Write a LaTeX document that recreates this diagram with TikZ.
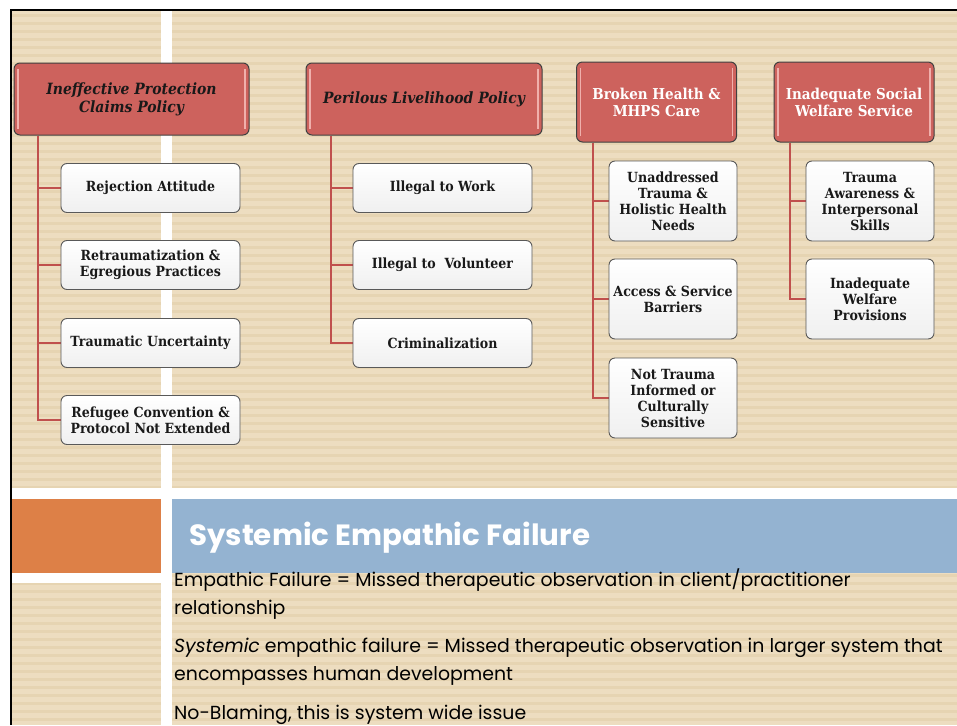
\documentclass[tikz,border=0pt]{standalone}
\usepackage{fontspec}
\newfontfamily\boxfont[FakeStretch=0.9]{DejaVu Serif}
\newfontfamily\slidefont{Poppins}
\pgfdeclarelayer{links}
\pgfsetlayers{links,main}
\definecolor{paper}{HTML}{EDDDC0}
\definecolor{paperline}{HTML}{E6D4B2}
\definecolor{headred}{HTML}{CD625D}
\definecolor{headgloss}{HTML}{F0B0AC}
\definecolor{linkred}{HTML}{C0504D}
\definecolor{accentorange}{HTML}{DD8047}
\definecolor{titleblue}{HTML}{94B3D1}
\tikzset{
  headbox/.style={draw=black!75, line width=1pt, rounded corners=6pt, fill=headred,
    align=center, inner sep=2pt,
    path picture={
      \draw[headgloss, line width=1.6pt]
        ([xshift=4pt,yshift=-6pt]path picture bounding box.north west) --
        ([xshift=4pt,yshift=6pt]path picture bounding box.south west);
      \draw[headgloss, line width=1.6pt]
        ([xshift=-4pt,yshift=-6pt]path picture bounding box.north east) --
        ([xshift=-4pt,yshift=6pt]path picture bounding box.south east);
    }},
  darkhead/.style={headbox, font=\boxfont\bfseries\itshape\fontsize{15.5}{18}\selectfont, text=black!90},
  lighthead/.style={headbox, font=\boxfont\bfseries\fontsize{15}{17}\selectfont, text=white},
  itembox/.style={draw=black!65, line width=0.9pt, rounded corners=6pt,
    top color=white, bottom color=black!6, align=center, inner sep=2pt,
    font=\boxfont\bfseries\fontsize{14}{16}\selectfont, text=black!90},
  widebox/.style={itembox, minimum width=179pt, minimum height=49pt},
  tallbox/.style={itembox, minimum width=128pt, minimum height=80pt},
  link/.style={draw=linkred, line width=2.2pt},
  bodytext/.style={anchor=base west, inner sep=0pt, font=\slidefont\fontsize{18.9}{23}\selectfont, text=black}
}
\begin{document}
\begin{tikzpicture}[x=1pt,y=-1pt]
\useasboundingbox (0,0) rectangle (957,725);
\begin{pgfonlayer}{links}
% slide background
\fill[white] (0,0) rectangle (957,725);
\fill[paper] (12,11) rectangle (957,725);
\foreach \y in {14,22,...,722} \fill[paperline] (12,\y) rectangle (957,\y+3);
% white rules of the slide layout
\fill[white] (161,11) rectangle (172,725);
\fill[white] (12,488) rectangle (957,499);
\fill[white] (12,573) rectangle (161,583);
\fill[accentorange] (12,499) rectangle (161,573);
\fill[titleblue] (172,499) rectangle (957,573);
% frame edges
\fill[black] (10,9) rectangle (957,11);
\fill[black] (10,9) rectangle (12,725);
\end{pgfonlayer}

% headers
\node[darkhead, minimum width=235pt, minimum height=72pt] (h1) at (131.5,99) {Ineffective Protection\\Claims Policy};
\node[darkhead, minimum width=236pt, minimum height=72pt] (h2) at (424,99) {Perilous Livelihood Policy};
\node[lighthead, minimum width=160pt, minimum height=80pt] (h3) at (656.5,102) {Broken Health \&\\MHPS Care};
\node[lighthead, minimum width=160pt, minimum height=80pt] (h4) at (854,102) {Inadequate Social\\Welfare Service};

% first column
\node[widebox] (n11) at (150.5,188) {Rejection Attitude};
\node[widebox] (n12) at (150.5,265) {Retraumatization \&\\Egregious Practices};
\node[widebox] (n13) at (150.5,343) {Traumatic Uncertainty};
\node[widebox] (n14) at (150.5,420) {Refugee Convention \&\\Protocol Not Extended};
% second column
\node[widebox] (n21) at (442.5,188) {Illegal to Work};
\node[widebox] (n22) at (442.5,265) {Illegal to\ \ Volunteer};
\node[widebox] (n23) at (442.5,343) {Criminalization};
% third column
\node[tallbox] (n31) at (673,201) {Unaddressed\\Trauma \&\\Holistic Health\\Needs};
\node[tallbox] (n32) at (673,299) {Access \& Service\\Barriers};
\node[tallbox] (n33) at (673,398) {Not Trauma\\Informed or\\Culturally\\Sensitive};
% fourth column
\node[tallbox] (n41) at (870,201) {Trauma\\Awareness \&\\Interpersonal\\Skills};
\node[tallbox] (n42) at (870,299) {Inadequate\\Welfare\\Provisions};

% vertical bus positions
\coordinate (b1) at (38,0);
\coordinate (b2) at (331,0);
\coordinate (b3) at (593,0);
\coordinate (b4) at (790,0);

% elbow connectors, kept behind the boxes
\begin{pgfonlayer}{links}
\foreach \c in {n11,n12,n13,n14} \draw[link] (h1.south -| b1) |- (\c.west);
\foreach \c in {n21,n22,n23} \draw[link] (h2.south -| b2) |- (\c.west);
\foreach \c in {n31,n32,n33} \draw[link] (h3.south -| b3) |- (\c.west);
\foreach \c in {n41,n42} \draw[link] (h4.south -| b4) |- (\c.west);
\end{pgfonlayer}

% slide title and body
\node[anchor=base west, inner sep=0pt, font=\slidefont\bfseries\fontsize{29.3}{34}\selectfont, text=white] (title) at (189,545) {Systemic Empathic Failure};
\node[bodytext] (t1) at (174,586) {Empathic Failure = Missed therapeutic observation in client/practitioner};
\node[bodytext] (t2) at (174,614) {relationship};
\node[bodytext] (t3) at (174,652) {\textit{Systemic} empathic failure = Missed therapeutic observation in larger system that};
\node[bodytext] (t4) at (174,680) {encompasses human development};
\node[bodytext] (t5) at (174,719) {No-Blaming, this is system wide issue};
\end{tikzpicture}
\end{document}
